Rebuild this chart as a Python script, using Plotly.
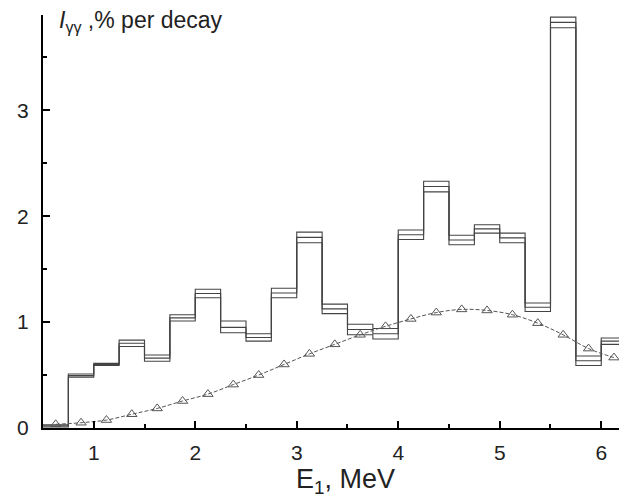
import plotly.graph_objects as go

# Histogram bin edges (MeV)
bin_edges = [0.5, 0.75, 1.0, 1.25, 1.5, 1.75, 2.0, 2.25, 2.5, 2.75, 3.0, 3.25,
             3.5, 3.75, 4.0, 4.25, 4.5, 4.75, 5.0, 5.25, 5.5, 5.75, 6.0, 6.25]
# Intensity per bin: lower / central / upper band (% per decay)
hist_low = [0.01, 0.48, 0.59, 0.77, 0.63, 1.01, 1.23, 0.90, 0.82, 1.23, 1.75, 1.08,
            0.88, 0.84, 1.78, 2.23, 1.73, 1.84, 1.75, 1.10, 3.78, 0.59, 0.79]
hist_mid = [0.02, 0.495, 0.60, 0.80, 0.66, 1.04, 1.27, 0.95, 0.855, 1.275, 1.80, 1.125,
            0.93, 0.89, 1.825, 2.28, 1.775, 1.88, 1.795, 1.14, 3.83, 0.635, 0.82]
hist_high = [0.03, 0.51, 0.61, 0.83, 0.69, 1.07, 1.31, 1.01, 0.89, 1.32, 1.85, 1.17,
             0.98, 0.94, 1.87, 2.33, 1.82, 1.92, 1.84, 1.18, 3.88, 0.68, 0.85]

# Calculated curve (triangles)
curve_x = [0.625, 0.875, 1.125, 1.375, 1.625, 1.875, 2.125, 2.375, 2.625, 2.875, 3.125,
           3.375, 3.625, 3.875, 4.125, 4.375, 4.625, 4.875, 5.125, 5.375, 5.625, 5.875, 6.125]
curve_y = [0.035, 0.05, 0.075, 0.13, 0.185, 0.255, 0.32, 0.41, 0.50, 0.60, 0.70,
           0.79, 0.88, 0.96, 1.03, 1.09, 1.12, 1.11, 1.07, 0.99, 0.88, 0.75, 0.665]

x_ticks = [1, 2, 3, 4, 5, 6]
y_ticks = [0, 1, 2, 3]

FONT = "Liberation Sans, Arial, sans-serif"
fig = go.Figure()

for vals in (hist_low, hist_mid, hist_high):
    fig.add_trace(go.Scatter(
        x=bin_edges, y=list(vals) + [vals[-1]],
        mode="lines", line=dict(shape="hv", color="#444444", width=1.1),
        hoverinfo="skip", showlegend=False))

fig.add_trace(go.Scatter(
    x=curve_x, y=curve_y, mode="lines+markers",
    line=dict(color="#555555", width=1, dash="4px,2px", shape="spline"),
    marker=dict(symbol="triangle-up-open", size=9, color="#555555",
                line=dict(width=1, color="#555555")),
    showlegend=False))

fig.update_xaxes(
    range=[0.5, 6.175], tickvals=x_ticks, ticktext=[str(v) for v in x_ticks],
    ticks="inside", ticklen=7, tickwidth=1.5, tickcolor="black",
    minor=dict(dtick=0.5, tick0=0.5, ticks="inside", ticklen=4, tickcolor="black"),
    showline=True, linecolor="black", linewidth=2, showgrid=False, zeroline=False,
    tickfont=dict(family=FONT, size=21, color="#222"), ticklabelstandoff=5)
fig.update_yaxes(
    range=[0, 3.90], tickvals=y_ticks, ticktext=[str(v) for v in y_ticks],
    ticks="inside", ticklen=7, tickwidth=1.5, tickcolor="black",
    minor=dict(dtick=0.5, tick0=0, ticks="inside", ticklen=4, tickcolor="black"),
    showline=True, linecolor="black", linewidth=2, showgrid=False, zeroline=False,
    tickfont=dict(family=FONT, size=21, color="#222"), ticklabelstandoff=8)

fig.add_annotation(xref="paper", yref="paper", x=0.526, y=-0.128,
                   text="E<sub>1</sub>, MeV", showarrow=False,
                   xanchor="center", yanchor="middle",
                   font=dict(family=FONT, size=27, color="#222"))
fig.add_annotation(xref="paper", yref="paper", x=0.024, y=0.985,
                   text="<i>I</i><sub>γγ</sub> ,% per decay", showarrow=False,
                   xanchor="left", yanchor="middle",
                   font=dict(family=FONT, size=23, color="#222"))

fig.update_layout(width=619, height=499, margin=dict(l=43, r=0, t=15, b=71),
                  plot_bgcolor="white", paper_bgcolor="white")
fig.write_html("out.html")
